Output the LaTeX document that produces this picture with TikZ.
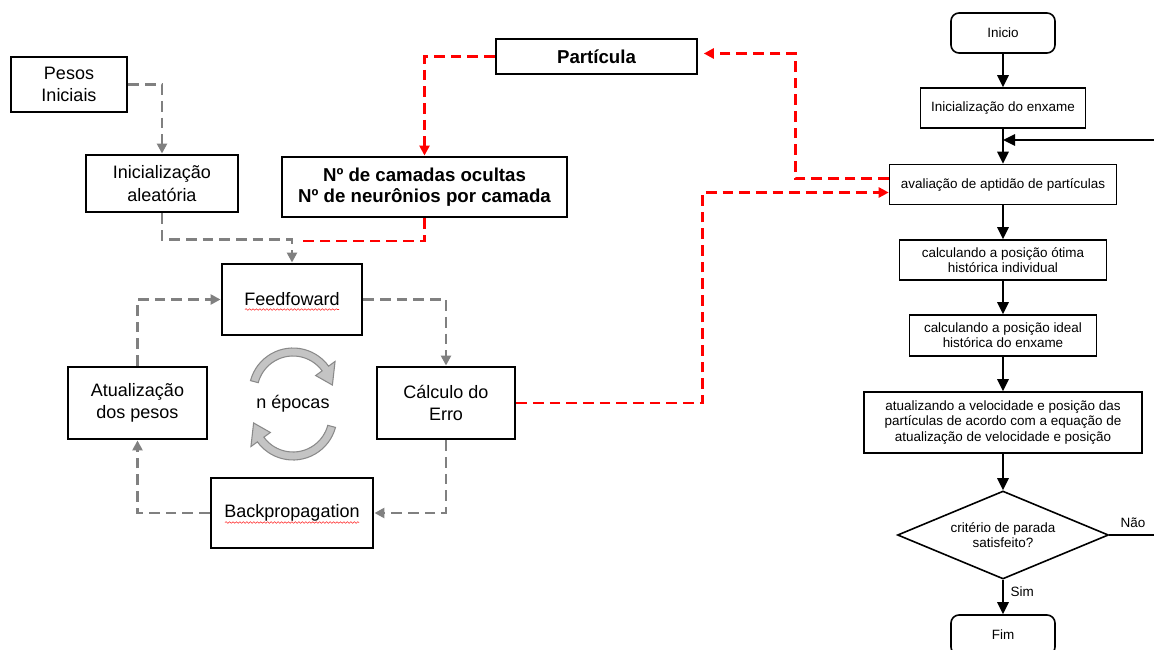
\documentclass[tikz,border=0pt]{standalone}
\usepackage{fontspec}
\setmainfont{Liberation Sans}
\usetikzlibrary{arrows.meta,shapes.geometric,calc,decorations.pathmorphing}

\definecolor{linkgray}{HTML}{808080}
\definecolor{linkred}{HTML}{FF0000}
\definecolor{cyclefill}{HTML}{C4C4C4}
\definecolor{cycleedge}{HTML}{8A8A8A}
\newcommand{\pxu}{0.75pt}

\begin{document}
\begin{tikzpicture}[x=0.75pt,y=-0.75pt,
  nnbox/.style={draw=black, line width=2.2pt, rectangle, align=center, inner sep=0pt,
    font=\fontsize{13.5}{17}\selectfont},
  boldbox/.style={nnbox, font=\bfseries\fontsize{14}{16}\selectfont},
  flowbox/.style={draw=black, line width=1.2pt, rectangle, align=center, inner sep=0pt,
    font=\fontsize{10.1}{11.4}\selectfont},
  termbox/.style={flowbox, rounded corners=6pt},
  decision/.style={draw=black, line width=1.2pt, diamond, aspect=2.4, align=center, inner sep=0pt,
    font=\fontsize{10.1}{11.4}\selectfont},
  graylink/.style={draw=linkgray, line width=2.1pt, dash pattern=on 8pt off 4.5pt},
  redlink/.style={draw=linkred, line width=2.1pt, dash pattern=on 8pt off 4.5pt},
  gtip/.style={-{Triangle[length=7.5pt,width=7.5pt]}},
  flowarrow/.style={draw=black, line width=1.4pt, -{Triangle[length=9pt,width=8.5pt]}},
  spellmark/.style={draw=linkred!85, line width=0.4pt, decorate,
    decoration={snake, segment length=2.6pt, amplitude=0.6pt}},
  flowlabel/.style={font=\fontsize{10.1}{11.4}\selectfont, inner sep=0pt}
]
\useasboundingbox (0,0) rectangle (1154,650);
\clip (0,0) rectangle (1154,650);

% ---------------- neural network training loop ----------------
\node[nnbox, minimum width=116*\pxu, minimum height=55*\pxu] (pesos) at (69,84.5) {Pesos\\Iniciais};
\node[nnbox, minimum width=152*\pxu, minimum height=57*\pxu] (inicA) at (162,183.5) {Inicialização\\aleatória};
\node[boldbox, minimum width=285*\pxu, minimum height=60*\pxu] (camadas) at (424.5,187)
  {Nº de camadas ocultas\\Nº de neurônios por camada};
\node[boldbox, minimum width=201*\pxu, minimum height=35*\pxu] (part) at (596.5,56.5) {Partícula};
\node[nnbox, minimum width=140*\pxu, minimum height=71*\pxu] (ff) at (292,299.5) {Feedfoward};
\node[nnbox, minimum width=138*\pxu, minimum height=72*\pxu] (calc) at (446,403) {Cálculo do\\Erro};
\node[nnbox, minimum width=139*\pxu, minimum height=72*\pxu] (atual) at (137.5,403) {Atualização\\dos pesos};
\node[nnbox, minimum width=162*\pxu, minimum height=70*\pxu] (back) at (292,513) {Backpropagation};
\node[font=\fontsize{13.5}{17}\selectfont, inner sep=0pt] (epocas) at (293,404) {n épocas};

% spell-check underlines
\draw[spellmark] ($(ff.center)+(-47,10)$) -- ($(ff.center)+(47,10)$);
\draw[spellmark] ($(back.center)+(-67,9.5)$) -- ($(back.center)+(67,9.5)$);

% cycle arrows around "n epocas"
\begin{scope}[shift={(293,392)}, yscale=-1]
  \filldraw[fill=cyclefill, draw=cycleedge, line width=0.8pt]
    (165:44) arc[start angle=165, end angle=36, radius=44] -- (36:52) -- (10:40) -- (36:28)
    -- (36:36) arc[start angle=36, end angle=165, radius=36] -- cycle;
\end{scope}
\begin{scope}[shift={(293,416)}, yscale=-1, rotate=180]
  \filldraw[fill=cyclefill, draw=cycleedge, line width=0.8pt]
    (165:44) arc[start angle=165, end angle=36, radius=44] -- (36:52) -- (10:40) -- (36:28)
    -- (36:36) arc[start angle=36, end angle=165, radius=36] -- cycle;
\end{scope}

% gray dashed connectors
\draw[graylink, gtip] (pesos.east) -| (inicA.north);
\draw[graylink, gtip] (inicA.south) -- ++(0,26) -| (ff.north);
\draw[graylink, gtip] (ff.east) -| (calc.north);
\draw[graylink, gtip] (calc.south) |- (back.east);
\draw[graylink, gtip] (back.west) -| (atual.south);
\draw[graylink, gtip] (atual.north) |- (ff.west);

% red dashed connectors
\coordinate (redjoin) at (300,241);
\draw[redlink] (camadas.south) |- (redjoin);
\draw[redlink, gtip] (part.west) -| (camadas.north);

% ---------------- PSO flowchart ----------------
\node[termbox, minimum width=104*\pxu, minimum height=40*\pxu] (inicio) at (1003,33) {Inicio};
\node[flowbox, minimum width=165*\pxu, minimum height=40*\pxu] (inicEx) at (1003,108) {Inicialização do enxame};
\node[flowbox, minimum width=227*\pxu, minimum height=40*\pxu] (aval) at (1003,184.5) {avaliação de aptidão de partículas};
\node[flowbox, minimum width=207*\pxu, minimum height=40*\pxu] (otima) at (1003,260)
  {calculando a posição ótima\\histórica individual};
\node[flowbox, minimum width=187*\pxu, minimum height=41*\pxu] (ideal) at (1003,335.5)
  {calculando a posição ideal\\histórica do enxame};
\node[flowbox, minimum width=278*\pxu, minimum height=61*\pxu] (atual2) at (1003,422.5)
  {atualizando a velocidade e posição das\\partículas de acordo com a equação de\\atualização de velocidade e posição};
\node[decision, minimum width=211*\pxu, minimum height=88*\pxu] (crit) at (1003,535)
  {critério de parada\\satisfeito?};
\node[termbox, minimum width=104*\pxu, minimum height=40*\pxu] (fim) at (1003,635) {Fim};

\draw[flowarrow] (inicio.south) -- (inicEx.north);
\draw[flowarrow] (inicEx.south) -- (aval.north);
\draw[flowarrow] (aval.south) -- (otima.north);
\draw[flowarrow] (otima.south) -- (ideal.north);
\draw[flowarrow] (ideal.south) -- (atual2.north);
\draw[flowarrow] (atual2.south) -- (crit.north);
\draw[flowarrow] (crit.south) -- node[flowlabel, right=5pt, pos=0.35] (sim) {Sim} (fim.north);

\coordinate (loopback) at (1154,140);
\coordinate (noexit) at (1154,535);
\draw[flowarrow] (loopback) -- (inicEx.south |- loopback);
\draw[draw=black, line width=1.4pt] (crit.east) -- (noexit);
\node[flowlabel] (nao) at (1133,523) {Não};

% red dashed links between the two parts
\draw[redlink, gtip] (calc.east) -- ++(186,0) |- ($(aval.west)+(0,8)$);
\draw[redlink, gtip, shorten >=4pt] ($(aval.west)+(0,-6)$) -- ++(-93,0) |- ($(part.east)+(0,-3)$);
\end{tikzpicture}
\end{document}
